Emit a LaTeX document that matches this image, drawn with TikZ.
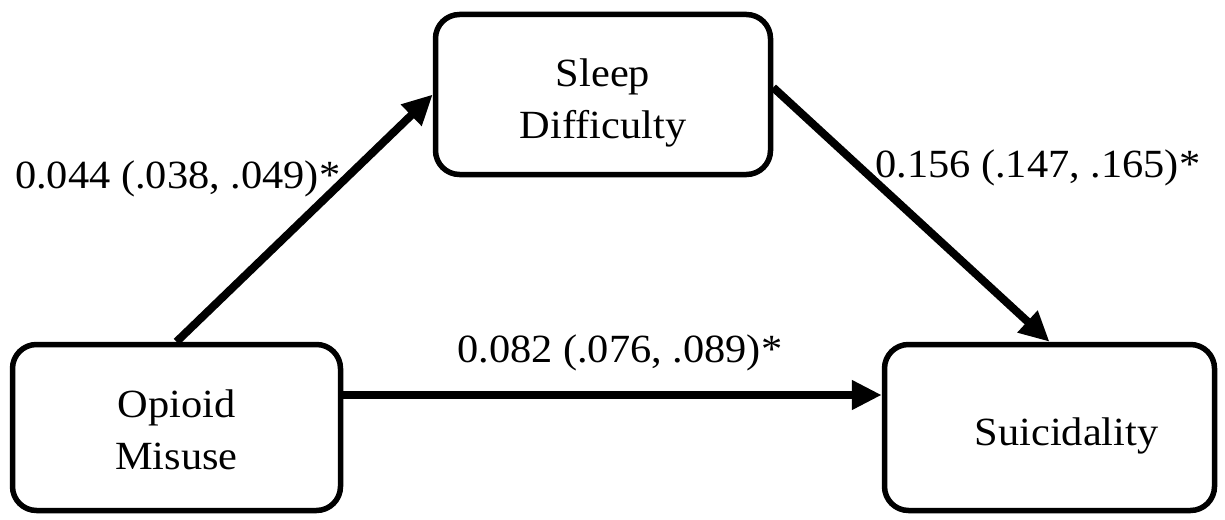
\documentclass[tikz,border=0pt]{standalone}
\usepackage{fontspec}
\setmainfont{Liberation Serif}[FakeStretch=1.06]
\usetikzlibrary{arrows.meta,calc}
\begin{document}
\begin{tikzpicture}[x=1pt,y=-1pt,
  box/.style={draw, line width=5.5pt, rounded corners=24pt, align=center,
    font=\fontsize{40}{52}\selectfont, inner sep=0pt},
  link/.style={line width=8pt, -{Triangle[length=30pt,width=28pt]}},
  lab/.style={font=\fontsize{40}{48}\selectfont, anchor=base west, inner sep=0pt}]
\useasboundingbox (0,0) rectangle (1225,519);
\node[box, minimum width=335pt, minimum height=160pt] (sl) at (603,94.5) {\rule{0pt}{44pt}Sleep\\Difficulty};
\node[box, minimum width=328pt, minimum height=166pt] (op) at (176.5,427.5) {\rule{0pt}{32pt}Opioid\\Misuse};
\node[box, minimum width=330pt, minimum height=166pt] (su) at (1049.5,427.5) {\rule{0pt}{44pt}\hspace*{34pt}Suicidality};
\draw[link] (op.north) -- (sl.west);
\draw[link] ([yshift=7pt]sl.east) -- (su.north);
\draw[link] ([yshift=32.5pt]op.east) -- ([yshift=32.5pt]su.west);
\node[lab] (l1) at (15,188) {0.044 (.038, .049)*};
\node[lab] (l2) at (875,177) {0.156 (.147, .165)*};
\node[lab] (l3) at (457,362) {0.082 (.076, .089)*};
\end{tikzpicture}
\end{document}
